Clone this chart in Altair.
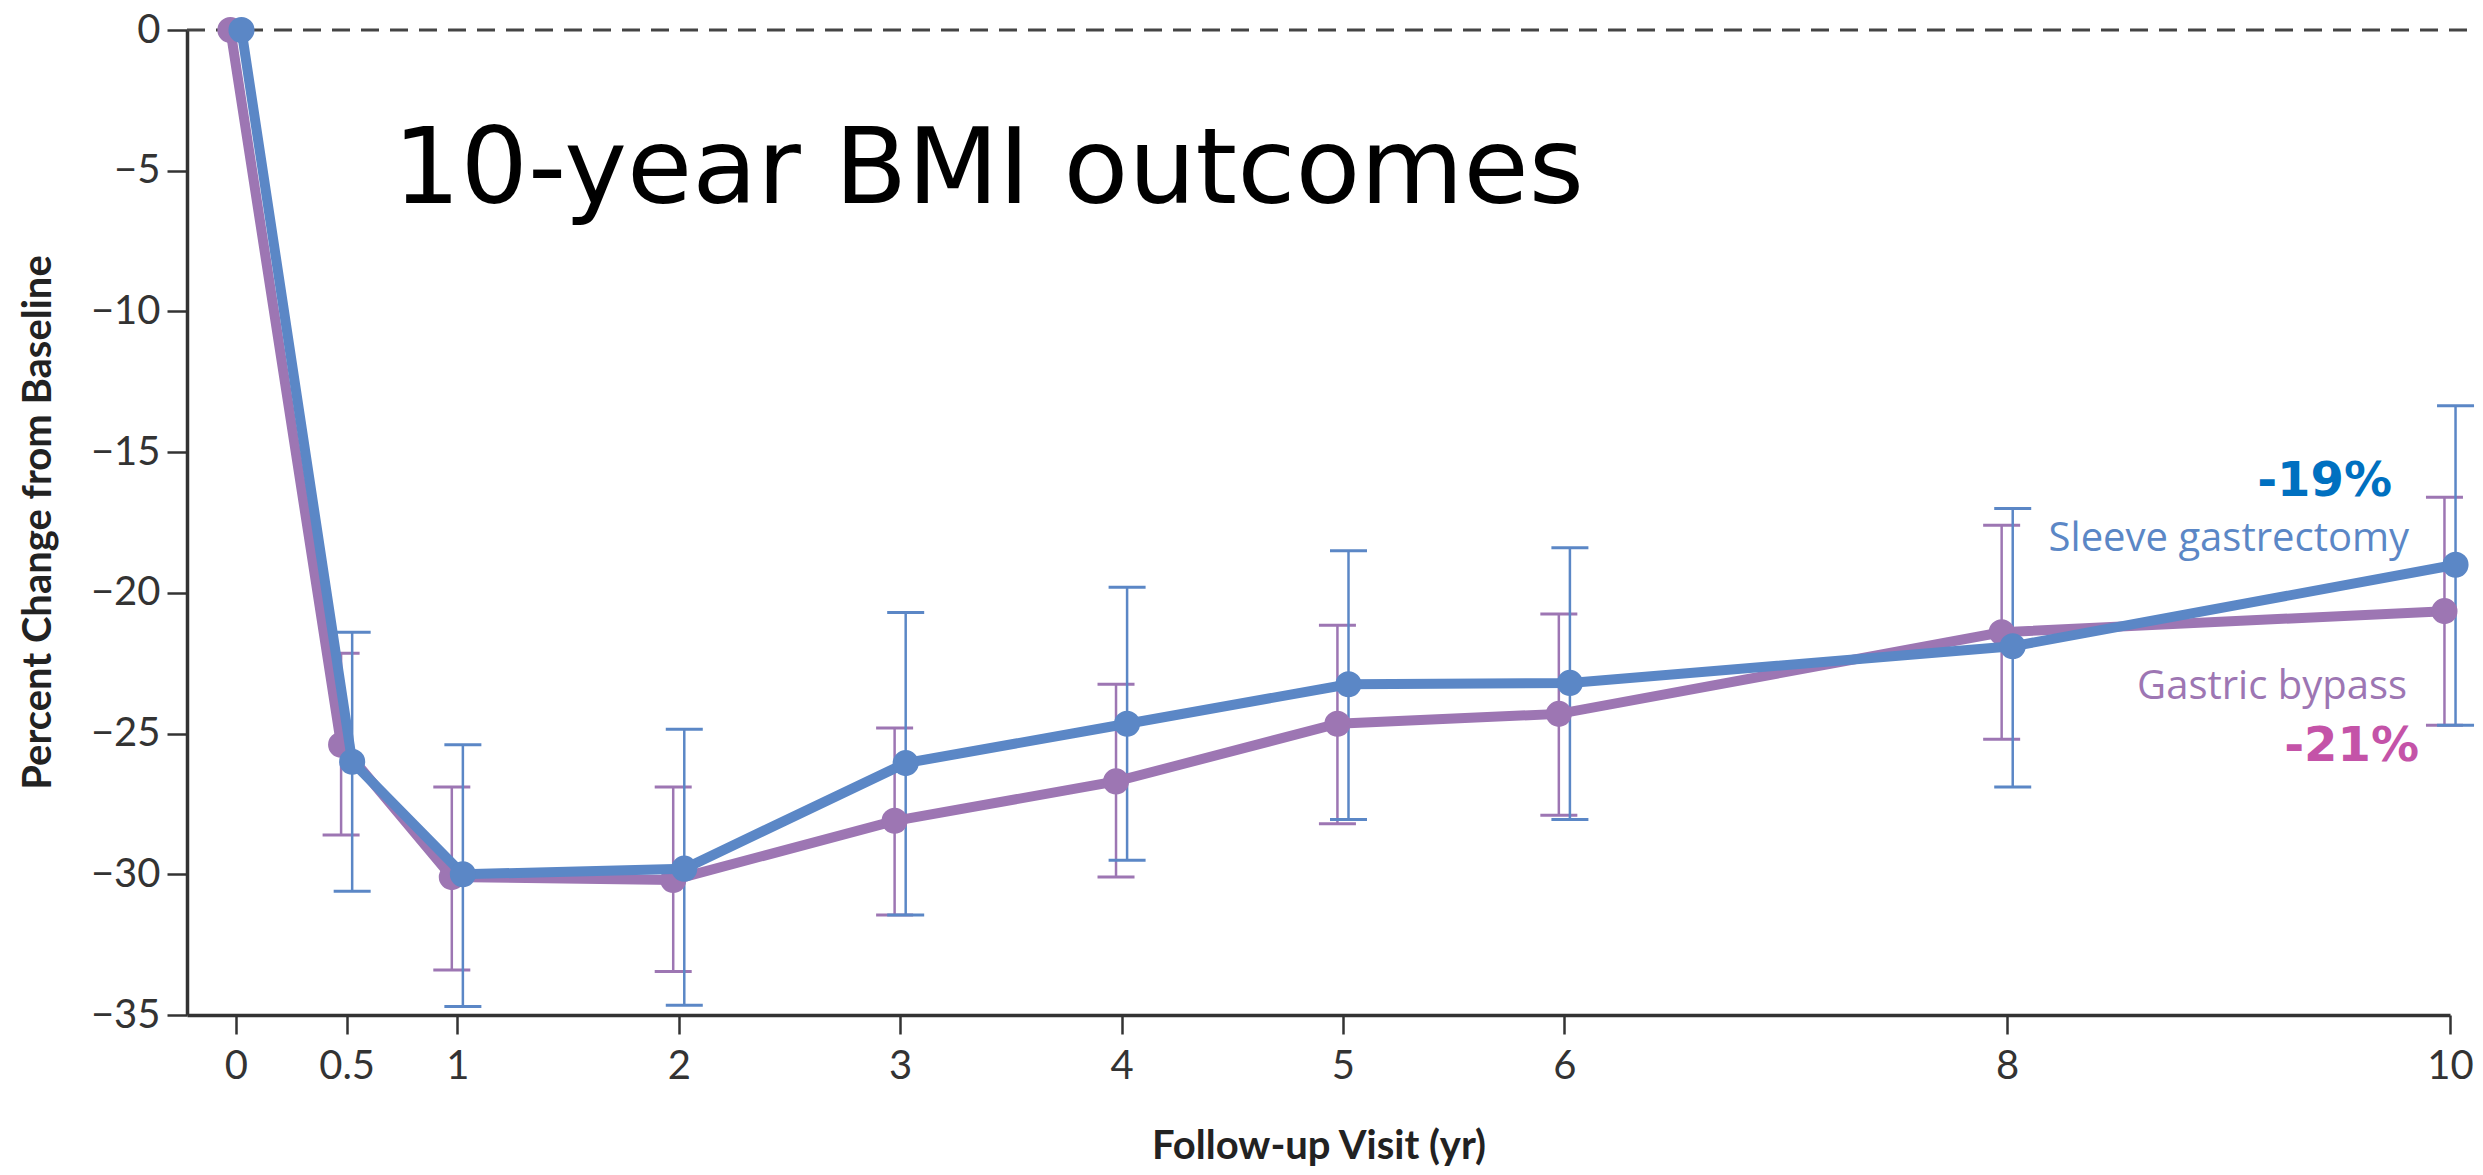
import altair as alt
import pandas as pd

# ---- data ----
years = [0, 0.5, 1, 2, 3, 4, 5, 6, 8, 10]
groups = ["Gastric bypass", "Sleeve gastrectomy"]

sleeve_mean = [0, -26.0, -30.0, -29.8, -26.05, -24.65, -23.25, -23.2, -21.9, -19.0]
sleeve_upper = [None, -21.4, -25.4, -24.85, -20.7, -19.8, -18.5, -18.4, -17.0, -13.35]
sleeve_lower = [None, -30.6, -34.7, -34.65, -31.45, -29.5, -28.05, -28.05, -26.9, -24.7]

bypass_mean = [0, -25.4, -30.1, -30.2, -28.1, -26.7, -24.65, -24.3, -21.4, -20.65]
bypass_upper = [None, -22.15, -26.9, -26.9, -24.8, -23.25, -21.15, -20.75, -17.6, -16.6]
bypass_lower = [None, -28.6, -33.4, -33.45, -31.45, -30.1, -28.2, -27.9, -25.2, -24.7]

y_ticks = [0, -5, -10, -15, -20, -25, -30, -35]

title_text = "10-year BMI outcomes"
pct_labels = ["-19%", "-21%"]
name_labels = ["Sleeve gastrectomy", "Gastric bypass"]

# ---- styles ----
BLUE = "#5B87C6"
PURPLE = "#9D76B3"
PCT_BLUE = "#0070C0"
PCT_PINK = "#C453A8"
DODGE = 0.025

rows = []
for g, m, lo, up in [
    ("Gastric bypass", bypass_mean, bypass_lower, bypass_upper),
    ("Sleeve gastrectomy", sleeve_mean, sleeve_lower, sleeve_upper),
]:
    for yr, mm, l, u in zip(years, m, lo, up):
        rows.append({"group": g, "year": yr, "mean": mm, "lower": l, "upper": u})
df = pd.DataFrame(rows)

W, H = 2263, 985

x_scale = alt.Scale(domain=[-0.221, 10], nice=False, zero=False)
y_scale = alt.Scale(domain=[-35, 0], nice=False, zero=False)

x_axis = alt.Axis(
    values=years, format="~g", title="Follow-up Visit (yr)", grid=False,
    domainColor="#333333", domainWidth=3.5, tickColor="#333333", tickWidth=2.5,
    tickSize=19, labelFont="Lato", labelFontSize=40, labelColor="#333333",
    labelPadding=12, labelFlush=False, labelOverlap=False,
    titleFont="Lato", titleFontSize=40, titleFontWeight="bold", titleColor="#222222",
    titleX=W / 2, titleY=143, titleBaseline="alphabetic", titleAlign="center",
)
y_axis = alt.Axis(
    values=y_ticks, format="d", title="Percent Change from Baseline", grid=False,
    domainColor="#333333", domainWidth=3.5, tickColor="#333333", tickWidth=2.5,
    tickSize=20, labelFont="Lato", labelFontSize=40, labelColor="#333333",
    labelPadding=7, labelFlush=False, labelOverlap=False,
    titleFont="Lato", titleFontSize=40, titleFontWeight="bold", titleColor="#222222",
    titleAngle=270, titleX=-137, titleY=492, titleBaseline="alphabetic", titleAlign="center",
)

X = alt.X("xd:Q", scale=x_scale, axis=x_axis)

base = alt.Chart(df).transform_calculate(
    xd=f"datum.year + (datum.group === 'Sleeve gastrectomy' ? {DODGE} : {-DODGE})"
)

def series_layers(group, color):
    b = base.transform_filter(alt.datum.group == group)
    eb = b.transform_filter("isValid(datum.lower)")
    err = eb.mark_rule(color=color, strokeWidth=2.5, opacity=1).encode(
        x=X, y=alt.Y("lower:Q", scale=y_scale, axis=y_axis), y2="upper:Q"
    )
    cap_lo = eb.mark_tick(color=color, orient="horizontal", size=37, thickness=3, opacity=1).encode(
        x=X, y=alt.Y("lower:Q", scale=y_scale, axis=y_axis)
    )
    cap_hi = eb.mark_tick(color=color, orient="horizontal", size=37, thickness=3, opacity=1).encode(
        x=X, y=alt.Y("upper:Q", scale=y_scale, axis=y_axis)
    )
    line = b.mark_line(color=color, strokeWidth=10, opacity=1).encode(
        x=X, y=alt.Y("mean:Q", scale=y_scale, axis=y_axis), order="year:Q"
    )
    pts = b.mark_circle(color=color, size=680, opacity=1).encode(
        x=X, y=alt.Y("mean:Q", scale=y_scale, axis=y_axis)
    )
    return [err, cap_lo, cap_hi], [line, pts]

p_err, p_line = series_layers("Gastric bypass", PURPLE)
b_err, b_line = series_layers("Sleeve gastrectomy", BLUE)

zero_rule = alt.Chart(pd.DataFrame({"z": [0]})).mark_rule(
    color="#444444", strokeWidth=3, strokeDash=[18, 11]
).encode(
    y=alt.Y("z:Q", scale=y_scale, axis=y_axis), x=alt.value(0), x2=alt.value(W + 30)
)

title = alt.Chart(pd.DataFrame({"t": [title_text]})).mark_text(
    font="DejaVu Sans", fontSize=106, align="left", baseline="alphabetic", color="black"
).encode(text="t:N", x=alt.value(206), y=alt.value(173))

def annot(text, xv, yv, color, font, size, weight):
    return alt.Chart(pd.DataFrame({"t": [text]})).mark_text(
        font=font, fontSize=size, fontWeight=weight, align="right",
        baseline="alphabetic", color=color
    ).encode(text="t:N", x=alt.datum(xv), y=alt.datum(yv))

a1 = annot(pct_labels[0], 9.738, -16.56, PCT_BLUE, "DejaVu Sans", 48, "bold")
a2 = annot(name_labels[0], 9.815, -18.51, BLUE, "Open Sans", 40, "normal")
a3 = annot(name_labels[1], 9.806, -23.77, PURPLE, "Open Sans", 40, "normal")
a4 = annot(pct_labels[1], 9.86, -25.98, PCT_PINK, "DejaVu Sans", 48, "bold")

chart = alt.layer(
    zero_rule, *p_err, *b_err, *p_line, *b_line, title, a1, a2, a3, a4
).properties(
    width=W, height=H,
    autosize=alt.AutoSizeParams(type="none"),
    padding={"left": 179, "top": 22, "right": 25, "bottom": 152},
).configure_view(stroke=None)

chart.save("out.html", embed_options={"renderer": "svg", "actions": False})
